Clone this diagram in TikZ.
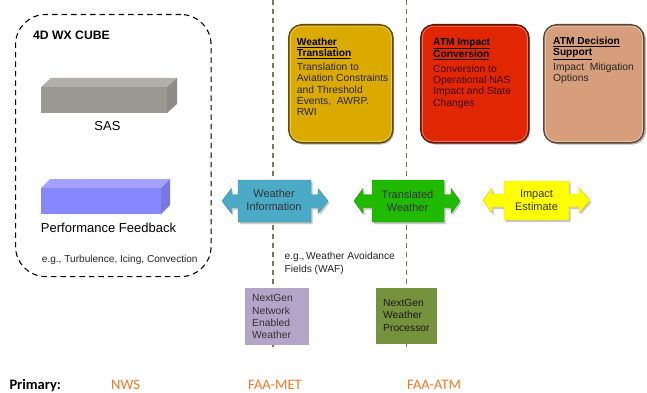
\documentclass[tikz,border=0pt]{standalone}
\usepackage{fontspec}
\setmainfont{Liberation Sans}
\newfontfamily\calfont{Carlito}
\usetikzlibrary{calc}
\definecolor{wtcol}{RGB}{219,170,0}
\definecolor{redcol}{RGB}{225,38,4}
\definecolor{tancol}{RGB}{214,158,122}
\definecolor{wicol}{RGB}{75,170,198}
\definecolor{twcol}{RGB}{32,186,0}
\definecolor{iecol}{RGB}{255,255,0}
\definecolor{vlcol}{RGB}{122,122,84}
\definecolor{purcol}{RGB}{180,164,200}
\definecolor{olvcol}{RGB}{119,146,60}
\definecolor{orgcol}{RGB}{240,122,40}
\newcommand\lrarrow[9]{%
 \pgfmathsetmacro\cy{(#4+#5)/2}%
 \fill[black!22, shift={(1.5,2)}] (#6,\cy) -- (#7,\cy-12.5) -- (#7,\cy-6.5) -- (#2,\cy-6.5) -- (#2,#4) -- (#3,#4) -- (#3,\cy-6.5) -- (#8,\cy-6.5) -- (#8,\cy-12.5) -- (#9,\cy) -- (#8,\cy+12.5) -- (#8,\cy+6.5) -- (#3,\cy+6.5) -- (#3,#5) -- (#2,#5) -- (#2,\cy+6.5) -- (#7,\cy+6.5) -- (#7,\cy+12.5) -- cycle;
 \filldraw[fill=#1, draw=#1!80!black, line width=0.4pt] (#6,\cy) -- (#7,\cy-12.5) -- (#7,\cy-6.5) -- (#2,\cy-6.5) -- (#2,#4) -- (#3,#4) -- (#3,\cy-6.5) -- (#8,\cy-6.5) -- (#8,\cy-12.5) -- (#9,\cy) -- (#8,\cy+12.5) -- (#8,\cy+6.5) -- (#3,\cy+6.5) -- (#3,#5) -- (#2,#5) -- (#2,\cy+6.5) -- (#7,\cy+6.5) -- (#7,\cy+12.5) -- cycle;
}
\tikzset{
 cubebox/.style={draw=black, dash pattern=on 5.5pt off 4pt, line width=1.1pt, rounded corners=30pt, minimum width=195.5pt, minimum height=262pt, anchor=north west, inner sep=0pt},
 vline/.style={draw=vlcol, line width=1.8pt, dash pattern=on 5pt off 4pt},
 rbox/.style={rounded corners=13pt, line width=1.6pt, anchor=north west, inner sep=0pt, minimum height=118pt},
 rshadow/.style={fill=black!28, rounded corners=13pt},
 rin/.style={rounded corners=11pt, line width=0.9pt},
 ttl/.style={anchor=north west, inner sep=0pt, align=left, font=\bfseries\fontsize{10.2}{10.8}\selectfont},
 bdy/.style={anchor=north west, inner sep=0pt, align=left, font=\fontsize{10.3}{11.3}\selectfont, text=black!85},
 arrtxt/.style={inner sep=0pt, align=center, font=\fontsize{11}{13}\selectfont, text=black!80},
 sqbox/.style={anchor=north west, inner sep=0pt},
 sqtxt/.style={anchor=north west, inner sep=0pt, align=left, font=\fontsize{10.3}{12.2}\selectfont, text=black!80},
 bottom/.style={anchor=base west, inner sep=0pt, font=\calfont\fontsize{14.5}{16}\selectfont},
}
\begin{document}
\begin{tikzpicture}[x=1pt,y=-1pt]
\useasboundingbox[fill=white] (0,0) rectangle (647,393);
% vertical dashed separators
\draw[vline] (273,0) -- (273,350);
\draw[vline] (406.5,0) -- (406.5,350);
% 4D WX cube region
\node[cubebox] (cube) at (15,14) {};
\node[anchor=base west, inner sep=0pt, font=\bfseries\fontsize{12.2}{13}\selectfont] (cubet) at (33,39.8) {4D WX CUBE};
% SAS 3D box
\fill[fill={rgb,255:red,178;green,175;blue,170}] (41,87) -- (51,78) -- (177,78) -- (167,87) -- cycle;
\fill[fill={rgb,255:red,142;green,138;blue,133}] (167,87) -- (177,78) -- (177,104) -- (167,113) -- cycle;
\node[fill={rgb,255:red,155;green,151;blue,145}, sqbox, minimum width=126pt, minimum height=26pt] (sas) at (41,87) {};
\node[anchor=base, inner sep=0pt, font=\fontsize{13}{15}\selectfont] (sast) at (107.5,131) {SAS};
% Performance feedback 3D box
\fill[fill={rgb,255:red,163;green,163;blue,255}] (41,188) -- (50,179) -- (170,179) -- (161,188) -- cycle;
\fill[fill={rgb,255:red,120;green,120;blue,224}] (161,188) -- (170,179) -- (170,205) -- (161,214) -- cycle;
\node[fill={rgb,255:red,135;green,135;blue,255}, sqbox, minimum width=120pt, minimum height=26pt] (pf) at (41,188) {};
\node[anchor=base, inner sep=0pt, font=\fontsize{13}{15}\selectfont] (pft) at (108.5,232.5) {Performance Feedback};
\node[anchor=base west, inner sep=0pt, font=\fontsize{10.1}{12}\selectfont, text=black!85] (eg1) at (41.7,262.6) {e.g., Turbulence, Icing, Convection};
% rounded boxes
\fill[rshadow] (290,26.5) rectangle (394,144.5);
\node[rbox, fill=wtcol, draw=wtcol!45!black, minimum width=104pt] (wt) at (288,24) {};
\draw[rin, draw=wtcol!65!white] ($(wt.north west)+(2.3,2.3)$) rectangle ($(wt.south east)+(-2.3,-2.3)$);
\node[ttl] (wtt) at (296.7,37.9) {\underline{Weather}\\\underline{Translation}};
\node[bdy] (wtb) at (296.7,62.9) {Translation to\\Aviation Constraints\\and Threshold\\Events,\ \ AWRP.\\RWI};
\fill[rshadow] (422,26.5) rectangle (530,144.5);
\node[rbox, fill=redcol, draw=redcol!45!black, minimum width=108pt] (aic) at (420,24) {};
\draw[rin, draw=redcol!65!white] ($(aic.north west)+(2.3,2.3)$) rectangle ($(aic.south east)+(-2.3,-2.3)$);
\node[ttl] (aict) at (433,37.9) {\underline{ATM Impact}\\\underline{Conversion}};
\node[bdy, text={rgb,255:red,60;green,10;blue,0}] (aicb) at (433,64.5) {Conversion to\\Operational NAS\\Impact and State\\Changes};
\fill[rshadow] (545,26.5) rectangle (646,144.5);
\node[rbox, fill=tancol, draw=tancol!45!black, minimum width=100pt] (ads) at (543,24) {};
\draw[rin, draw=tancol!60!white] ($(ads.north west)+(2.3,2.3)$) rectangle ($(ads.south east)+(-2.3,-2.3)$);
\node[ttl] (adst) at (553,36.9) {\underline{ATM Decision}\\\underline{Support}};
\node[bdy] (adsb) at (553,62.9) {Impact\ \ Mitigation\\Options};
% arrow callouts
\lrarrow{wicol}{238}{311}{180}{222}{222}{231.5}{318}{328}
\node[arrtxt] (wi) at (274,200) {Weather\\Information};
\lrarrow{twcol}{372}{444}{180}{222}{354}{363}{451}{460}
\node[arrtxt] (tw) at (407.5,201.5) {Translated\\Weather};
\lrarrow{iecol}{504}{569}{181}{220}{483}{492}{579}{590}
\node[arrtxt] (ie) at (536.5,200.5) {Impact\\Estimate};
% WAF note
\node[anchor=north west, inner sep=0pt, align=left, font=\fontsize{10.2}{13}\selectfont, text=black!85] (waf) at (284.5,252.2) {e.g.,\,Weather Avoidance\\Fields (WAF)};
% NextGen boxes
\node[sqbox, fill=purcol, minimum width=64pt, minimum height=57pt] (nnew) at (244.5,288) {};
\node[sqtxt] (nnewt) at (252,294.5) {NextGen\\Network\\Enabled\\Weather};
\node[sqbox, fill=olvcol, minimum width=61pt, minimum height=56pt] (nwp) at (376,288) {};
\node[sqtxt, text=black!90] (nwpt) at (383,299.3) {NextGen\\Weather\\Processor};
% bottom labels
\node[bottom, font=\calfont\bfseries\fontsize{14.5}{16}\selectfont] (prim) at (9.3,389) {Primary:};
\node[bottom, text=orgcol] (nws) at (111,389) {NWS};
\node[bottom, text=orgcol] (met) at (248,389) {FAA-MET};
\node[bottom, text=orgcol] (atm) at (407,389) {FAA-ATM};
\end{tikzpicture}
\end{document}
